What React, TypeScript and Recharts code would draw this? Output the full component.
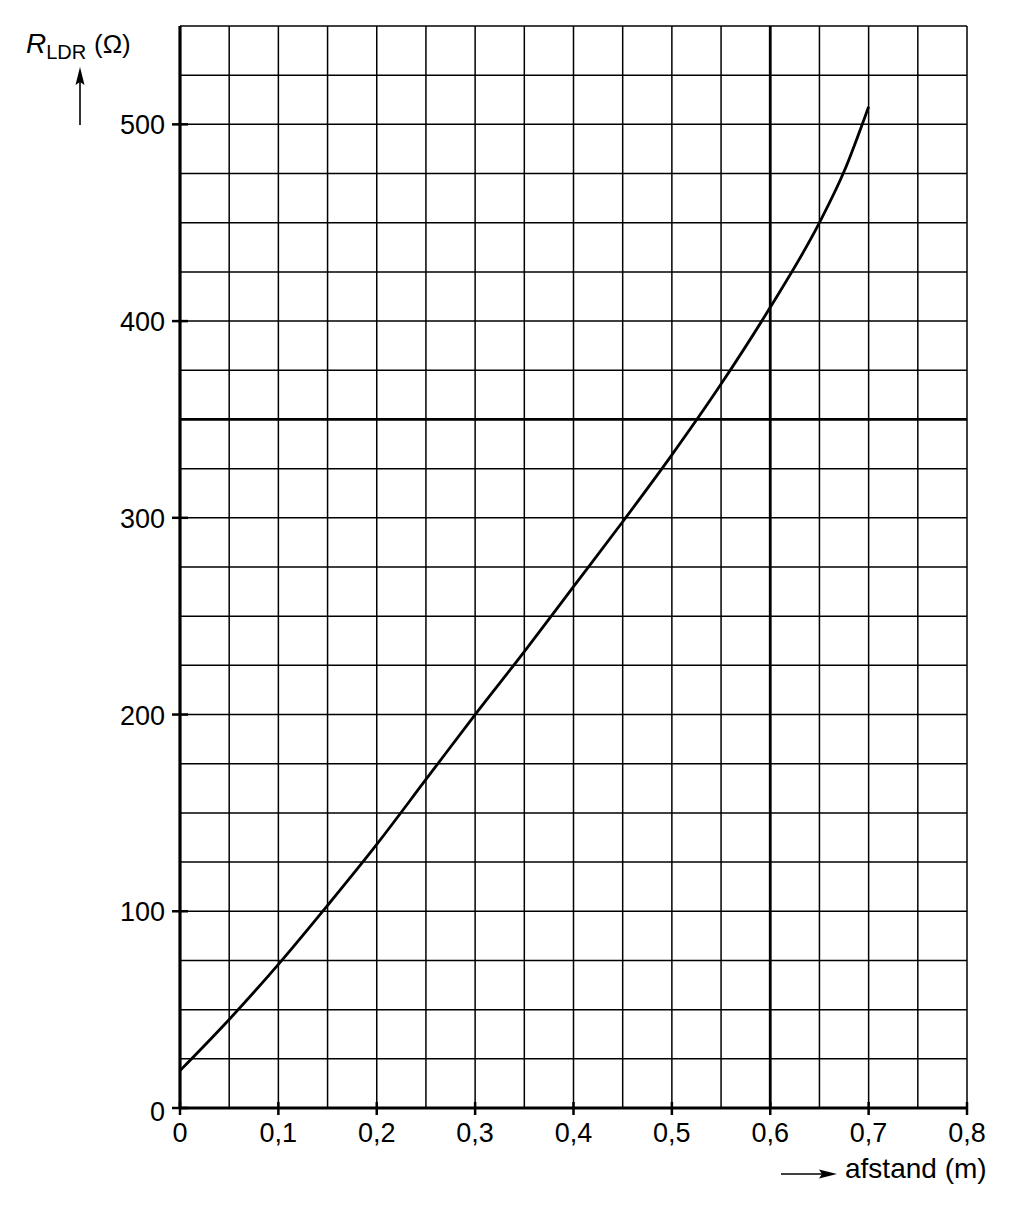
import { LineChart, Line, XAxis, YAxis, ReferenceLine } from "recharts";

// afstand (m) and R_LDR (Ω)
const distances = [0, 0.05, 0.1, 0.15, 0.2, 0.25, 0.3, 0.35, 0.4, 0.45, 0.5, 0.55, 0.6, 0.65, 0.675, 0.7];
const resistances = [19, 45, 73, 103, 134, 167, 200, 232, 265, 298, 332, 368, 407, 450, 476, 509];

const xTicks = [0, 0.1, 0.2, 0.3, 0.4, 0.5, 0.6, 0.7, 0.8];
const yTicks = [0, 100, 200, 300, 400, 500];
const gridX = [0.05, 0.1, 0.15, 0.2, 0.25, 0.3, 0.35, 0.4, 0.45, 0.5, 0.55, 0.65, 0.7, 0.75, 0.8];
const gridY = [25, 50, 75, 100, 125, 150, 175, 200, 225, 250, 275, 300, 325, 375, 400, 425, 450, 475, 500, 525, 550];
const boldX = [0.6];
const boldY = [350];

const data = distances.map((d, i) => ({ d, r: resistances[i] }));

const FONT = "'Liberation Sans', Arial, sans-serif";

const fmtX = (v: number) => (v === 0 ? "0" : v.toFixed(1).replace(".", ","));

function XTick(props: any) {
  const { x, y, payload } = props;
  return (
    <g>
      <line x1={x} x2={x} y1={y - 6} y2={y + 7} stroke="#000" strokeWidth={2.5} />
      <text x={x} y={y + 34} textAnchor="middle" fontSize={27} fontFamily={FONT} fill="#000">
        {fmtX(payload.value)}
      </text>
    </g>
  );
}

function YTick(props: any) {
  const { x, y, payload } = props;
  const dy = payload.value === 0 ? 13 : 10;
  return (
    <g>
      <line x1={x - 8} x2={x + 8} y1={y} y2={y} stroke="#000" strokeWidth={2.5} />
      <text x={x - 15} y={y + dy} textAnchor="end" fontSize={27} fontFamily={FONT} fill="#000">
        {payload.value}
      </text>
    </g>
  );
}

export default function App() {
  return (
    <div style={{ position: "relative", width: 1010, height: 1202 }}>
      <LineChart
        width={1010}
        height={1202}
        data={data}
        margin={{ top: 18, right: 51, bottom: 62, left: 112 }}
      >
        <XAxis
          type="number"
          dataKey="d"
          domain={[0, 0.8]}
          ticks={xTicks}
          interval={0}
          height={40}
          tickSize={0}
          tickMargin={0}
          tickLine={false}
          axisLine={{ stroke: "#000", strokeWidth: 3.2 }}
          tick={<XTick />}
        />
        <YAxis
          type="number"
          domain={[0, 550]}
          ticks={yTicks}
          interval={0}
          width={60}
          tickSize={0}
          tickMargin={0}
          tickLine={false}
          axisLine={{ stroke: "#000", strokeWidth: 3.2 }}
          tick={<YTick />}
        />
        {gridX.map((v) => (
          <ReferenceLine key={`gx${v}`} x={v} stroke="#000" strokeWidth={1.5} />
        ))}
        {gridY.map((v) => (
          <ReferenceLine key={`gy${v}`} y={v} stroke="#000" strokeWidth={1.5} />
        ))}
        {boldX.map((v) => (
          <ReferenceLine key={`bx${v}`} x={v} stroke="#000" strokeWidth={2.8} />
        ))}
        {boldY.map((v) => (
          <ReferenceLine key={`by${v}`} y={v} stroke="#000" strokeWidth={2.8} />
        ))}
        <Line
          type="monotone"
          dataKey="r"
          stroke="#000"
          strokeWidth={2.8}
          dot={false}
          isAnimationActive={false}
        />
      </LineChart>
      <svg
        width={1010}
        height={1202}
        style={{ position: "absolute", left: 0, top: 0, pointerEvents: "none" }}
      >
        <text x={18} y={45} fontFamily={FONT} fill="#000">
          <tspan fontSize={28} fontStyle="italic">R</tspan>
          <tspan fontSize={20} dy={6}>LDR</tspan>
        </text>
        <text x={86} y={45} fontSize={26} fontFamily={FONT} fill="#000">
          (Ω)
        </text>
        <line x1={72} y1={117} x2={72} y2={70} stroke="#000" strokeWidth={1.6} />
        <polygon points="72,59 76.5,77 72,74 67.5,77" fill="#000" />
        <line x1={773} y1={1166} x2={816} y2={1166} stroke="#000" strokeWidth={1.6} />
        <polygon points="829,1166 811,1161.5 814,1166 811,1170.5" fill="#000" />
        <text x={837} y={1170} fontSize={28} fontFamily={FONT} fill="#000">
          afstand (m)
        </text>
      </svg>
    </div>
  );
}
